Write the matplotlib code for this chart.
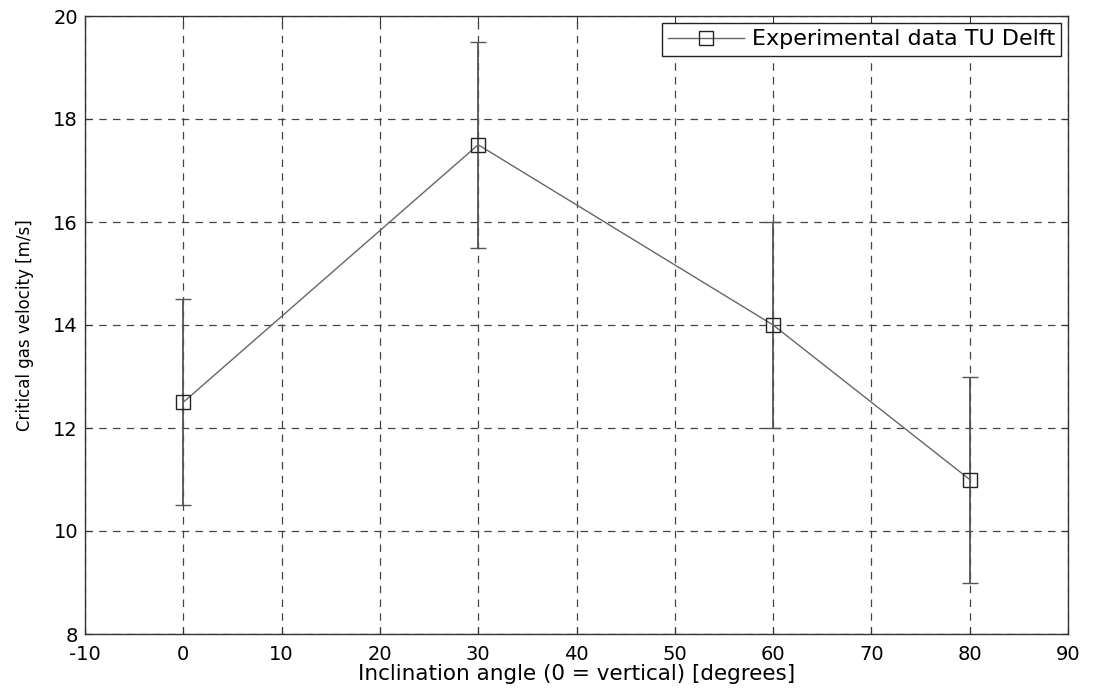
import matplotlib
matplotlib.use("Agg")
import matplotlib.pyplot as plt

# inclination angle [deg] vs critical gas velocity [m/s]
angles = [0, 30, 60, 80]
velocity = [12.5, 17.5, 14.0, 11.0]
errLow = [2.0, 2.0, 2.0, 2.0]
errHigh = [2.0, 2.0, 2.0, 2.0]
xTicks = [-10, 0, 10, 20, 30, 40, 50, 60, 70, 80, 90]
yTicks = [8, 10, 12, 14, 16, 18, 20]

plt.rcParams['font.family'] = ['DejaVu Sans']
plt.rcParams['axes.unicode_minus'] = False

fig = plt.figure(figsize=(10.98, 6.93), dpi=100)
ax = fig.add_axes([85 / 1098, 1 - 634 / 693, 983 / 1098, 618 / 693])

ax.errorbar(angles, velocity, yerr=[errLow, errHigh], fmt='none',
            ecolor='#555555', elinewidth=1.3, capsize=5.5, capthick=1.0, zorder=3)
ax.plot(angles, velocity, color='#666666', linewidth=1.0, marker='s',
        markersize=10, markerfacecolor='none', markeredgecolor='#222222',
        markeredgewidth=1.0, label='Experimental data TU Delft', zorder=4)

ax.set_xlim(-10, 90)
ax.set_ylim(8, 20)
ax.set_xticks(xTicks)
ax.set_yticks(yTicks)
ax.tick_params(direction='in', length=5, labelsize=14, color='#333333',
               top=True, right=True)
ax.tick_params(axis='x', pad=8)
ax.tick_params(axis='y', pad=5)
ax.grid(True, color='#444444', linestyle=(0, (6, 5)), linewidth=0.9)
for spine in ax.spines.values():
    spine.set_color('#333333')
    spine.set_linewidth(1.0)

ax.set_xlabel('Inclination angle (0 = vertical) [degrees]', fontsize=15.5, labelpad=0)
ax.set_ylabel('Critical gas velocity [m/s]', fontsize=12, labelpad=14)

leg = ax.legend(loc='upper right', fontsize=16, fancybox=False, framealpha=1,
                edgecolor='#222222', handlelength=3.4, borderpad=0.3,
                borderaxespad=0.3, handletextpad=0.35, markerscale=1.0)
leg.get_frame().set_linewidth(1.0)

fig.savefig('out.png', dpi=100)
